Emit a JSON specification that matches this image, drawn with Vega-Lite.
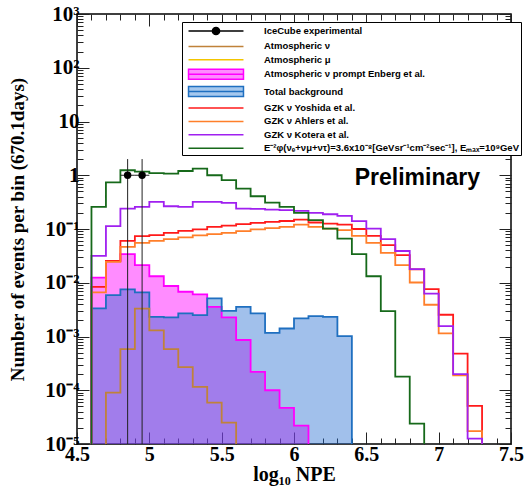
{
  "$schema": "https://vega.github.io/schema/vega-lite/v6.json",
  "autosize": {"type": "none"},
  "padding": {"left": 77, "top": 14, "right": 18, "bottom": 42},
  "width": 434,
  "height": 430,
  "background": "white",
  "config": {"view": {"stroke": "black", "strokeWidth": 1.5}, "font": "Liberation Sans"},
  "datasets": {
    "hist": [
      {"s": "Atmospheric ν prompt Enberg et al.", "x": 4.6, "v": 0.000001},
      {"s": "Atmospheric ν prompt Enberg et al.", "x": 4.6, "v": 0.0125},
      {"s": "Atmospheric ν prompt Enberg et al.", "x": 4.7, "v": 0.0255},
      {"s": "Atmospheric ν prompt Enberg et al.", "x": 4.8, "v": 0.034},
      {"s": "Atmospheric ν prompt Enberg et al.", "x": 4.9, "v": 0.0213},
      {"s": "Atmospheric ν prompt Enberg et al.", "x": 5.0, "v": 0.0132},
      {"s": "Atmospheric ν prompt Enberg et al.", "x": 5.1, "v": 0.0087},
      {"s": "Atmospheric ν prompt Enberg et al.", "x": 5.2, "v": 0.0068},
      {"s": "Atmospheric ν prompt Enberg et al.", "x": 5.3, "v": 0.0061},
      {"s": "Atmospheric ν prompt Enberg et al.", "x": 5.4, "v": 0.00356},
      {"s": "Atmospheric ν prompt Enberg et al.", "x": 5.5, "v": 0.00226},
      {"s": "Atmospheric ν prompt Enberg et al.", "x": 5.6, "v": 0.00086},
      {"s": "Atmospheric ν prompt Enberg et al.", "x": 5.7, "v": 0.00022},
      {"s": "Atmospheric ν prompt Enberg et al.", "x": 5.8, "v": 0.0001},
      {"s": "Atmospheric ν prompt Enberg et al.", "x": 5.9, "v": 0.000047},
      {"s": "Atmospheric ν prompt Enberg et al.", "x": 6.0, "v": 0.000022},
      {"s": "Atmospheric ν prompt Enberg et al.", "x": 6.1, "v": 0.000001},
      {"s": "Total background", "x": 4.6, "v": 0.000001},
      {"s": "Total background", "x": 4.6, "v": 0.00333},
      {"s": "Total background", "x": 4.7, "v": 0.0059},
      {"s": "Total background", "x": 4.8, "v": 0.0075},
      {"s": "Total background", "x": 4.9, "v": 0.0066},
      {"s": "Total background", "x": 5.0, "v": 0.00232},
      {"s": "Total background", "x": 5.1, "v": 0.00226},
      {"s": "Total background", "x": 5.2, "v": 0.00269},
      {"s": "Total background", "x": 5.3, "v": 0.0025},
      {"s": "Total background", "x": 5.4, "v": 0.0051},
      {"s": "Total background", "x": 5.5, "v": 0.003},
      {"s": "Total background", "x": 5.6, "v": 0.00356},
      {"s": "Total background", "x": 5.7, "v": 0.00269},
      {"s": "Total background", "x": 5.8, "v": 0.00117},
      {"s": "Total background", "x": 5.9, "v": 0.00141},
      {"s": "Total background", "x": 6.0, "v": 0.00217},
      {"s": "Total background", "x": 6.1, "v": 0.0024},
      {"s": "Total background", "x": 6.2, "v": 0.00232},
      {"s": "Total background", "x": 6.3, "v": 0.00102},
      {"s": "Total background", "x": 6.4, "v": 0.000001},
      {"s": "Atmospheric ν", "x": 4.7, "v": 0.000001},
      {"s": "Atmospheric ν", "x": 4.7, "v": 0.00009},
      {"s": "Atmospheric ν", "x": 4.8, "v": 0.00058},
      {"s": "Atmospheric ν", "x": 4.9, "v": 0.0033},
      {"s": "Atmospheric ν", "x": 5.0, "v": 0.0013},
      {"s": "Atmospheric ν", "x": 5.1, "v": 0.00058},
      {"s": "Atmospheric ν", "x": 5.2, "v": 0.00027},
      {"s": "Atmospheric ν", "x": 5.3, "v": 0.000116},
      {"s": "Atmospheric ν", "x": 5.4, "v": 0.000059},
      {"s": "Atmospheric ν", "x": 5.5, "v": 0.000025},
      {"s": "Atmospheric ν", "x": 5.6, "v": 0.000001},
      {"s": "GZK ν Yoshida et al.", "x": 4.6, "v": 0.000001},
      {"s": "GZK ν Yoshida et al.", "x": 4.6, "v": 0.0084},
      {"s": "GZK ν Yoshida et al.", "x": 4.7, "v": 0.0256},
      {"s": "GZK ν Yoshida et al.", "x": 4.8, "v": 0.06},
      {"s": "GZK ν Yoshida et al.", "x": 4.9, "v": 0.0735},
      {"s": "GZK ν Yoshida et al.", "x": 5.0, "v": 0.077},
      {"s": "GZK ν Yoshida et al.", "x": 5.1, "v": 0.085},
      {"s": "GZK ν Yoshida et al.", "x": 5.2, "v": 0.092},
      {"s": "GZK ν Yoshida et al.", "x": 5.3, "v": 0.098},
      {"s": "GZK ν Yoshida et al.", "x": 5.4, "v": 0.11},
      {"s": "GZK ν Yoshida et al.", "x": 5.5, "v": 0.116},
      {"s": "GZK ν Yoshida et al.", "x": 5.6, "v": 0.123},
      {"s": "GZK ν Yoshida et al.", "x": 5.7, "v": 0.13},
      {"s": "GZK ν Yoshida et al.", "x": 5.8, "v": 0.136},
      {"s": "GZK ν Yoshida et al.", "x": 5.9, "v": 0.141},
      {"s": "GZK ν Yoshida et al.", "x": 6.0, "v": 0.15},
      {"s": "GZK ν Yoshida et al.", "x": 6.1, "v": 0.132},
      {"s": "GZK ν Yoshida et al.", "x": 6.2, "v": 0.126},
      {"s": "GZK ν Yoshida et al.", "x": 6.3, "v": 0.121},
      {"s": "GZK ν Yoshida et al.", "x": 6.4, "v": 0.1},
      {"s": "GZK ν Yoshida et al.", "x": 6.5, "v": 0.0745},
      {"s": "GZK ν Yoshida et al.", "x": 6.6, "v": 0.05},
      {"s": "GZK ν Yoshida et al.", "x": 6.7, "v": 0.0326},
      {"s": "GZK ν Yoshida et al.", "x": 6.8, "v": 0.0177},
      {"s": "GZK ν Yoshida et al.", "x": 6.9, "v": 0.0076},
      {"s": "GZK ν Yoshida et al.", "x": 7.0, "v": 0.00254},
      {"s": "GZK ν Yoshida et al.", "x": 7.1, "v": 0.00048},
      {"s": "GZK ν Yoshida et al.", "x": 7.2, "v": 0.000051},
      {"s": "GZK ν Yoshida et al.", "x": 7.3, "v": 0.000001},
      {"s": "GZK ν Ahlers et al.", "x": 4.6, "v": 0.000001},
      {"s": "GZK ν Ahlers et al.", "x": 4.6, "v": 0.0066},
      {"s": "GZK ν Ahlers et al.", "x": 4.7, "v": 0.0245},
      {"s": "GZK ν Ahlers et al.", "x": 4.8, "v": 0.0465},
      {"s": "GZK ν Ahlers et al.", "x": 4.9, "v": 0.055},
      {"s": "GZK ν Ahlers et al.", "x": 5.0, "v": 0.06},
      {"s": "GZK ν Ahlers et al.", "x": 5.1, "v": 0.065},
      {"s": "GZK ν Ahlers et al.", "x": 5.2, "v": 0.07},
      {"s": "GZK ν Ahlers et al.", "x": 5.3, "v": 0.076},
      {"s": "GZK ν Ahlers et al.", "x": 5.4, "v": 0.08},
      {"s": "GZK ν Ahlers et al.", "x": 5.5, "v": 0.085},
      {"s": "GZK ν Ahlers et al.", "x": 5.6, "v": 0.091},
      {"s": "GZK ν Ahlers et al.", "x": 5.7, "v": 0.098},
      {"s": "GZK ν Ahlers et al.", "x": 5.8, "v": 0.104},
      {"s": "GZK ν Ahlers et al.", "x": 5.9, "v": 0.11},
      {"s": "GZK ν Ahlers et al.", "x": 6.0, "v": 0.121},
      {"s": "GZK ν Ahlers et al.", "x": 6.1, "v": 0.11},
      {"s": "GZK ν Ahlers et al.", "x": 6.2, "v": 0.102},
      {"s": "GZK ν Ahlers et al.", "x": 6.3, "v": 0.095},
      {"s": "GZK ν Ahlers et al.", "x": 6.4, "v": 0.0745},
      {"s": "GZK ν Ahlers et al.", "x": 6.5, "v": 0.055},
      {"s": "GZK ν Ahlers et al.", "x": 6.6, "v": 0.036},
      {"s": "GZK ν Ahlers et al.", "x": 6.7, "v": 0.0212},
      {"s": "GZK ν Ahlers et al.", "x": 6.8, "v": 0.0101},
      {"s": "GZK ν Ahlers et al.", "x": 6.9, "v": 0.0039},
      {"s": "GZK ν Ahlers et al.", "x": 7.0, "v": 0.00114},
      {"s": "GZK ν Ahlers et al.", "x": 7.1, "v": 0.00019},
      {"s": "GZK ν Ahlers et al.", "x": 7.2, "v": 0.0000174},
      {"s": "GZK ν Ahlers et al.", "x": 7.3, "v": 0.000001},
      {"s": "GZK ν Kotera et al.", "x": 4.6, "v": 0.000001},
      {"s": "GZK ν Kotera et al.", "x": 4.6, "v": 0.0316},
      {"s": "GZK ν Kotera et al.", "x": 4.7, "v": 0.113},
      {"s": "GZK ν Kotera et al.", "x": 4.8, "v": 0.24},
      {"s": "GZK ν Kotera et al.", "x": 4.9, "v": 0.258},
      {"s": "GZK ν Kotera et al.", "x": 5.0, "v": 0.32},
      {"s": "GZK ν Kotera et al.", "x": 5.1, "v": 0.265},
      {"s": "GZK ν Kotera et al.", "x": 5.2, "v": 0.258},
      {"s": "GZK ν Kotera et al.", "x": 5.3, "v": 0.32},
      {"s": "GZK ν Kotera et al.", "x": 5.4, "v": 0.32},
      {"s": "GZK ν Kotera et al.", "x": 5.5, "v": 0.306},
      {"s": "GZK ν Kotera et al.", "x": 5.6, "v": 0.24},
      {"s": "GZK ν Kotera et al.", "x": 5.7, "v": 0.236},
      {"s": "GZK ν Kotera et al.", "x": 5.8, "v": 0.23},
      {"s": "GZK ν Kotera et al.", "x": 5.9, "v": 0.224},
      {"s": "GZK ν Kotera et al.", "x": 6.0, "v": 0.217},
      {"s": "GZK ν Kotera et al.", "x": 6.1, "v": 0.2},
      {"s": "GZK ν Kotera et al.", "x": 6.2, "v": 0.188},
      {"s": "GZK ν Kotera et al.", "x": 6.3, "v": 0.175},
      {"s": "GZK ν Kotera et al.", "x": 6.4, "v": 0.14},
      {"s": "GZK ν Kotera et al.", "x": 6.5, "v": 0.102},
      {"s": "GZK ν Kotera et al.", "x": 6.6, "v": 0.065},
      {"s": "GZK ν Kotera et al.", "x": 6.7, "v": 0.039},
      {"s": "GZK ν Kotera et al.", "x": 6.8, "v": 0.018},
      {"s": "GZK ν Kotera et al.", "x": 6.9, "v": 0.0063},
      {"s": "GZK ν Kotera et al.", "x": 7.0, "v": 0.00156},
      {"s": "GZK ν Kotera et al.", "x": 7.1, "v": 0.0002},
      {"s": "GZK ν Kotera et al.", "x": 7.2, "v": 0.0000126},
      {"s": "GZK ν Kotera et al.", "x": 7.3, "v": 0.000001},
      {"s": "E⁻²φ(νₑ+νμ+ντ)=3.6x10⁻⁸[GeVsr⁻¹cm⁻²sec⁻¹], Eₘₐₓ=10⁹GeV", "x": 4.6, "v": 0.000001},
      {"s": "E⁻²φ(νₑ+νμ+ντ)=3.6x10⁻⁸[GeVsr⁻¹cm⁻²sec⁻¹], Eₘₐₓ=10⁹GeV", "x": 4.6, "v": 0.258},
      {"s": "E⁻²φ(νₑ+νμ+ντ)=3.6x10⁻⁸[GeVsr⁻¹cm⁻²sec⁻¹], Eₘₐₓ=10⁹GeV", "x": 4.7, "v": 0.74},
      {"s": "E⁻²φ(νₑ+νμ+ντ)=3.6x10⁻⁸[GeVsr⁻¹cm⁻²sec⁻¹], Eₘₐₓ=10⁹GeV", "x": 4.8, "v": 1.24},
      {"s": "E⁻²φ(νₑ+νμ+ντ)=3.6x10⁻⁸[GeVsr⁻¹cm⁻²sec⁻¹], Eₘₐₓ=10⁹GeV", "x": 4.9, "v": 1.17},
      {"s": "E⁻²φ(νₑ+νμ+ντ)=3.6x10⁻⁸[GeVsr⁻¹cm⁻²sec⁻¹], Eₘₐₓ=10⁹GeV", "x": 5.0, "v": 1.1},
      {"s": "E⁻²φ(νₑ+νμ+ντ)=3.6x10⁻⁸[GeVsr⁻¹cm⁻²sec⁻¹], Eₘₐₓ=10⁹GeV", "x": 5.1, "v": 1.07},
      {"s": "E⁻²φ(νₑ+νμ+ντ)=3.6x10⁻⁸[GeVsr⁻¹cm⁻²sec⁻¹], Eₘₐₓ=10⁹GeV", "x": 5.2, "v": 1.2},
      {"s": "E⁻²φ(νₑ+νμ+ντ)=3.6x10⁻⁸[GeVsr⁻¹cm⁻²sec⁻¹], Eₘₐₓ=10⁹GeV", "x": 5.3, "v": 1.33},
      {"s": "E⁻²φ(νₑ+νμ+ντ)=3.6x10⁻⁸[GeVsr⁻¹cm⁻²sec⁻¹], Eₘₐₓ=10⁹GeV", "x": 5.4, "v": 1.0},
      {"s": "E⁻²φ(νₑ+νμ+ντ)=3.6x10⁻⁸[GeVsr⁻¹cm⁻²sec⁻¹], Eₘₐₓ=10⁹GeV", "x": 5.5, "v": 0.81},
      {"s": "E⁻²φ(νₑ+νμ+ντ)=3.6x10⁻⁸[GeVsr⁻¹cm⁻²sec⁻¹], Eₘₐₓ=10⁹GeV", "x": 5.6, "v": 0.566},
      {"s": "E⁻²φ(νₑ+νμ+ντ)=3.6x10⁻⁸[GeVsr⁻¹cm⁻²sec⁻¹], Eₘₐₓ=10⁹GeV", "x": 5.7, "v": 0.407},
      {"s": "E⁻²φ(νₑ+νμ+ντ)=3.6x10⁻⁸[GeVsr⁻¹cm⁻²sec⁻¹], Eₘₐₓ=10⁹GeV", "x": 5.8, "v": 0.31},
      {"s": "E⁻²φ(νₑ+νμ+ντ)=3.6x10⁻⁸[GeVsr⁻¹cm⁻²sec⁻¹], Eₘₐₓ=10⁹GeV", "x": 5.9, "v": 0.258},
      {"s": "E⁻²φ(νₑ+νμ+ντ)=3.6x10⁻⁸[GeVsr⁻¹cm⁻²sec⁻¹], Eₘₐₓ=10⁹GeV", "x": 6.0, "v": 0.2},
      {"s": "E⁻²φ(νₑ+νμ+ντ)=3.6x10⁻⁸[GeVsr⁻¹cm⁻²sec⁻¹], Eₘₐₓ=10⁹GeV", "x": 6.1, "v": 0.146},
      {"s": "E⁻²φ(νₑ+νμ+ντ)=3.6x10⁻⁸[GeVsr⁻¹cm⁻²sec⁻¹], Eₘₐₓ=10⁹GeV", "x": 6.2, "v": 0.102},
      {"s": "E⁻²φ(νₑ+νμ+ντ)=3.6x10⁻⁸[GeVsr⁻¹cm⁻²sec⁻¹], Eₘₐₓ=10⁹GeV", "x": 6.3, "v": 0.066},
      {"s": "E⁻²φ(νₑ+νμ+ντ)=3.6x10⁻⁸[GeVsr⁻¹cm⁻²sec⁻¹], Eₘₐₓ=10⁹GeV", "x": 6.4, "v": 0.034},
      {"s": "E⁻²φ(νₑ+νμ+ντ)=3.6x10⁻⁸[GeVsr⁻¹cm⁻²sec⁻¹], Eₘₐₓ=10⁹GeV", "x": 6.5, "v": 0.0132},
      {"s": "E⁻²φ(νₑ+νμ+ντ)=3.6x10⁻⁸[GeVsr⁻¹cm⁻²sec⁻¹], Eₘₐₓ=10⁹GeV", "x": 6.6, "v": 0.00296},
      {"s": "E⁻²φ(νₑ+νμ+ντ)=3.6x10⁻⁸[GeVsr⁻¹cm⁻²sec⁻¹], Eₘₐₓ=10⁹GeV", "x": 6.7, "v": 0.000179},
      {"s": "E⁻²φ(νₑ+νμ+ντ)=3.6x10⁻⁸[GeVsr⁻¹cm⁻²sec⁻¹], Eₘₐₓ=10⁹GeV", "x": 6.8, "v": 0.000024},
      {"s": "E⁻²φ(νₑ+νμ+ντ)=3.6x10⁻⁸[GeVsr⁻¹cm⁻²sec⁻¹], Eₘₐₓ=10⁹GeV", "x": 6.9, "v": 0.000001}
    ],
    "icecube": [
      {"s": "IceCube experimental", "x": 4.85, "v": 1, "lo": 0.000001, "hi": 2.0, "xl": 4.8, "xh": 4.9},
      {"s": "IceCube experimental", "x": 4.95, "v": 1, "lo": 0.000001, "hi": 2.0, "xl": 4.9, "xh": 5.0}
    ]
  },
  "resolve": {"axis": {"x": "independent", "y": "independent"}},
  "layer": [
    {
      "data": {"name": "hist"},
      "transform": [{"filter": "datum.s == 'Atmospheric ν prompt Enberg et al.'"}],
      "mark": {"type": "area", "interpolate": "step-after", "clip": true, "opacity": 0.45},
      "encoding": {
        "x": {"field": "x", "type": "quantitative", "scale": {"domain": [4.5, 7.5], "nice": false, "zero": false},
          "axis": {"orient": "bottom", "values": [4.5,4.6,4.7,4.8,4.9,5,5.1,5.2,5.3,5.4,5.5,5.6,5.7,5.8,5.9,6,6.1,6.2,6.3,6.4,6.5,6.6,6.7,6.8,6.9,7,7.1,7.2,7.3,7.4,7.5],
            "labelExpr": "indexof([4.5,5,5.5,6,6.5,7,7.5], datum.value) >= 0 ? format(datum.value, '~g') : ''",
            "labelFont": "Liberation Serif", "labelFontWeight": "bold", "labelFontSize": 20, "labelColor": "black",
            "labelPadding": 12, "labelOverlap": false, "labelFlush": false, "labelBound": false,
            "domain": false, "grid": false, "tickColor": "#222", "tickWidth": 1,
            "tickSize": {"condition": {"test": "indexof([4.5,5,5.5,6,6.5,7,7.5], datum.value) >= 0", "value": -12}, "value": -6},
            "title": "log₁₀ NPE", "titleFont": "Liberation Serif", "titleFontWeight": "bold", "titleFontSize": 20, "titleColor": "black", "titlePadding": -6}},
        "y": {"field": "v", "type": "quantitative", "stack": null, "scale": {"type": "log", "domain": [0.00001, 1000], "nice": false},
          "axis": {"orient": "left",
            "values": [0.00001,0.00002,0.00003,0.00004,0.00005,0.00006,0.00007,0.00008,0.00009,0.0001,0.0002,0.0003,0.0004,0.0005,0.0006,0.0007,0.0008,0.0009,0.001,0.002,0.003,0.004,0.005,0.006,0.007,0.008,0.009,0.01,0.02,0.03,0.04,0.05,0.06,0.07,0.08,0.09,0.1,0.2,0.3,0.4,0.5,0.6,0.7,0.8,0.9,1,2,3,4,5,6,7,8,9,10,20,30,40,50,60,70,80,90,100,200,300,400,500,600,700,800,900,1000],
            "labelExpr": "datum.value == 1000 ? '10³' : datum.value == 100 ? '10²' : datum.value == 10 ? '10' : datum.value == 1 ? '1' : datum.value == 0.1 ? '10⁻¹' : datum.value == 0.01 ? '10⁻²' : datum.value == 0.001 ? '10⁻³' : datum.value == 0.0001 ? '10⁻⁴' : datum.value == 0.00001 ? '10⁻⁵' : ''",
            "labelFont": "Liberation Serif", "labelFontWeight": "bold", "labelFontSize": 21, "labelColor": "black",
            "labelPadding": 10, "labelOverlap": false, "labelFlush": false, "labelBound": false,
            "domain": false, "grid": false, "tickColor": "#222", "tickWidth": 1,
            "tickSize": {"condition": {"test": "indexof([0.00001,0.0001,0.001,0.01,0.1,1,10,100,1000], datum.value) >= 0", "value": -12}, "value": -6},
            "title": "Number of events per bin (670.1days)", "titleFont": "Liberation Serif", "titleFontWeight": "bold", "titleFontSize": 19, "titleColor": "black", "titlePadding": 17}},
        "fill": {"field": "s", "type": "nominal", "scale": {"domain": ["Atmospheric ν prompt Enberg et al.", "Total background"], "range": ["#ff00ff", "#1f6ad0"]}, "legend": null}
      }
    },
    {
      "data": {"name": "hist"},
      "transform": [{"filter": "datum.s == 'Total background'"}],
      "mark": {"type": "area", "interpolate": "step-after", "clip": true, "opacity": 0.42},
      "encoding": {
        "x": {"field": "x", "type": "quantitative", "axis": null},
        "y": {"field": "v", "type": "quantitative", "stack": null, "axis": null},
        "fill": {"field": "s", "type": "nominal", "legend": null}
      }
    },
    {
      "data": {"name": "hist"},
      "mark": {"type": "line", "interpolate": "step-after", "clip": true, "strokeWidth": 1.8},
      "encoding": {
        "x": {"field": "x", "type": "quantitative",
          "axis": {"orient": "top", "values": [4.5,4.6,4.7,4.8,4.9,5,5.1,5.2,5.3,5.4,5.5,5.6,5.7,5.8,5.9,6,6.1,6.2,6.3,6.4,6.5,6.6,6.7,6.8,6.9,7,7.1,7.2,7.3,7.4,7.5],
            "labels": false, "domain": false, "grid": false, "title": null, "tickColor": "#222", "tickWidth": 1,
            "tickSize": {"condition": {"test": "indexof([4.5,5,5.5,6,6.5,7,7.5], datum.value) >= 0", "value": -12}, "value": -6}}},
        "y": {"field": "v", "type": "quantitative",
          "axis": {"orient": "right",
            "values": [0.00001,0.00002,0.00003,0.00004,0.00005,0.00006,0.00007,0.00008,0.00009,0.0001,0.0002,0.0003,0.0004,0.0005,0.0006,0.0007,0.0008,0.0009,0.001,0.002,0.003,0.004,0.005,0.006,0.007,0.008,0.009,0.01,0.02,0.03,0.04,0.05,0.06,0.07,0.08,0.09,0.1,0.2,0.3,0.4,0.5,0.6,0.7,0.8,0.9,1,2,3,4,5,6,7,8,9,10,20,30,40,50,60,70,80,90,100,200,300,400,500,600,700,800,900,1000],
            "labels": false, "domain": false, "grid": false, "title": null, "tickColor": "#222", "tickWidth": 1,
            "tickSize": {"condition": {"test": "indexof([0.00001,0.0001,0.001,0.01,0.1,1,10,100,1000], datum.value) >= 0", "value": -12}, "value": -6}}},
        "color": {"field": "s", "type": "nominal",
          "scale": {"domain": ["IceCube experimental", "Atmospheric ν", "Atmospheric μ", "Atmospheric ν prompt Enberg et al.", "Total background", "GZK ν Yoshida et al.", "GZK ν Ahlers et al.", "GZK ν Kotera et al.", "E⁻²φ(νₑ+νμ+ντ)=3.6x10⁻⁸[GeVsr⁻¹cm⁻²sec⁻¹], Eₘₐₓ=10⁹GeV"],
            "range": ["#000000", "#c0823a", "#f2c500", "#ff00ff", "#1f6fc0", "#ff1a1a", "#ff7f2a", "#a020f0", "#16691a"]},
          "legend": {"title": null, "orient": "none", "legendX": 105, "legendY": 8, "direction": "vertical",
            "fillColor": "white", "strokeColor": "black", "padding": 2,
            "labelFont": "Liberation Sans", "labelFontWeight": "bold", "labelFontSize": 9.5, "labelColor": "black", "labelLimit": 400,
            "labelOffset": 41, "symbolOffset": 25, "symbolSize": 144, "symbolStrokeWidth": 1.5, "rowPadding": 1.4, "symbolOpacity": 1,
            "symbolType": {"expr": "(datum.value == 'Atmospheric ν prompt Enberg et al.' || datum.value == 'Total background') ? 'M-4.58,-0.83H4.58V0.83H-4.58ZM-4.58,0H4.58' : datum.value == 'IceCube experimental' ? 'M-4.58,0H4.58M0.6,0A0.6,0.6,0,1,1,-0.6,0A0.6,0.6,0,1,1,0.6,0' : 'M-4.58,0H4.58'"},
            "symbolFillColor": {"expr": "datum.value == 'Atmospheric ν prompt Enberg et al.' ? '#ff8cff' : datum.value == 'Total background' ? '#a6c8ee' : datum.value == 'IceCube experimental' ? '#000000' : 'transparent'"}
          }
        }
      }
    },
    {
      "data": {"name": "icecube"},
      "mark": {"type": "rule", "clip": true, "color": "#222", "strokeWidth": 1},
      "encoding": {
        "x": {"field": "x", "type": "quantitative", "axis": null},
        "y": {"field": "lo", "type": "quantitative", "axis": null},
        "y2": {"field": "hi"}
      }
    },
    {
      "data": {"name": "icecube"},
      "mark": {"type": "rule", "clip": true, "color": "#222", "strokeWidth": 1},
      "encoding": {
        "x": {"field": "xl", "type": "quantitative", "axis": null},
        "x2": {"field": "xh"},
        "y": {"field": "v", "type": "quantitative", "axis": null}
      }
    },
    {
      "data": {"name": "icecube"},
      "mark": {"type": "point", "filled": true, "size": 55, "opacity": 1, "clip": true, "color": "black"},
      "encoding": {
        "x": {"field": "x", "type": "quantitative", "axis": null},
        "y": {"field": "v", "type": "quantitative", "axis": null}
      }
    },
    {
      "data": {"values": [{}]},
      "mark": {"type": "text", "font": "Liberation Sans", "fontWeight": "bold", "fontSize": 23, "align": "left", "baseline": "alphabetic", "color": "black"},
      "encoding": {
        "x": {"datum": 6.42, "type": "quantitative", "axis": null},
        "y": {"datum": 0.65, "type": "quantitative", "axis": null},
        "text": {"value": "Preliminary"}
      }
    }
  ]
}
